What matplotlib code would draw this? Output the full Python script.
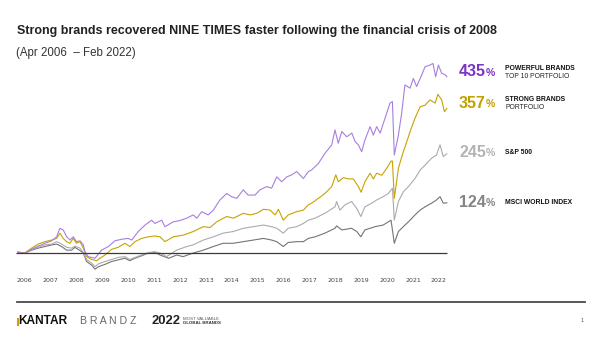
import numpy as np
import matplotlib.pyplot as plt

# index performance since Apr 2006, in %
powerful_dates = [2006.29, 2006.54, 2006.79, 2007.03, 2007.28, 2007.53, 2007.71, 2007.83, 2007.95,
                  2008.08, 2008.20, 2008.32, 2008.44, 2008.57, 2008.69, 2008.75, 2008.87, 2009.00,
                  2009.12, 2009.36, 2009.61, 2009.85, 2010.10, 2010.34, 2010.47, 2010.71, 2010.96,
                  2011.20, 2011.32, 2011.57, 2011.69, 2012.00, 2012.24, 2012.49, 2012.73, 2012.86,
                  2013.04, 2013.28, 2013.47, 2013.71, 2013.96, 2014.14, 2014.33, 2014.57, 2014.75,
                  2015.00, 2015.18, 2015.43, 2015.61, 2015.80, 2015.98, 2016.17, 2016.35, 2016.53,
                  2016.78, 2016.96, 2017.08, 2017.33, 2017.57, 2017.82, 2017.94, 2018.06, 2018.19,
                  2018.37, 2018.56, 2018.68, 2018.80, 2018.92, 2019.04, 2019.23, 2019.35, 2019.47,
                  2019.60, 2019.78, 2019.96, 2020.05, 2020.12, 2020.27, 2020.39, 2020.51, 2020.70,
                  2020.82, 2020.94, 2021.13, 2021.25, 2021.43, 2021.54, 2021.64, 2021.74, 2021.86,
                  2021.99, 2022.05]
powerful_pct = [2, -1, 9, 17, 24, 30, 40, 61, 57,
                40, 32, 40, 28, 30, 20, 3, -9, -11,
                -13, 7, 16, 30, 34, 36, 32, 53, 69,
                81, 73, 81, 65, 77, 80, 86, 94, 86,
                102, 94, 106, 131, 147, 139, 135, 156, 143,
                143, 156, 164, 160, 188, 176, 188, 193, 201,
                184, 201, 205, 221, 246, 267, 304, 271, 300,
                287, 296, 275, 267, 250, 279, 312, 291, 312,
                296, 333, 370, 374, 242, 291, 345, 415, 407,
                431, 411, 440, 460, 464, 468, 435, 464, 444,
                440, 435]

strong_dates = [2006.29, 2006.54, 2006.79, 2007.03, 2007.28, 2007.53, 2007.71, 2007.83, 2007.95,
                2008.08, 2008.20, 2008.32, 2008.44, 2008.57, 2008.69, 2008.81, 2009.00, 2009.18,
                2009.30, 2009.49, 2009.73, 2009.97, 2010.22, 2010.40, 2010.59, 2010.83, 2011.08,
                2011.32, 2011.51, 2011.69, 2012.00, 2012.36, 2012.73, 2013.10, 2013.35, 2013.59,
                2013.96, 2014.21, 2014.57, 2014.82, 2015.06, 2015.31, 2015.55, 2015.74, 2015.86,
                2016.04, 2016.22, 2016.53, 2016.78, 2016.96, 2017.08, 2017.33, 2017.57, 2017.82,
                2017.97, 2018.06, 2018.25, 2018.43, 2018.61, 2018.80, 2018.90, 2019.04, 2019.23,
                2019.35, 2019.47, 2019.66, 2019.84, 2020.00, 2020.05, 2020.12, 2020.27, 2020.45,
                2020.58, 2020.70, 2020.88, 2021.07, 2021.25, 2021.43, 2021.62, 2021.72, 2021.86,
                2021.96, 2022.05]
strong_pct = [2, 0, 12, 22, 28, 32, 36, 49, 36,
              28, 24, 36, 24, 28, 12, -9, -16, -19,
              -13, -5, 9, 14, 24, 16, 28, 36, 40,
              42, 40, 28, 40, 44, 53, 65, 63, 77,
              90, 86, 98, 94, 98, 108, 106, 94, 108,
              81, 94, 102, 106, 119, 123, 135, 147, 164,
              193, 176, 186, 183, 183, 164, 150, 176, 197,
              183, 197, 192, 209, 227, 227, 135, 209, 250,
              275, 300, 333, 361, 365, 378, 370, 392, 378,
              349, 357]

sp500_dates = [2006.29, 2006.54, 2006.79, 2007.03, 2007.28, 2007.53, 2007.71, 2007.89, 2008.08,
               2008.26, 2008.38, 2008.57, 2008.69, 2008.81, 2009.00, 2009.12, 2009.24, 2009.49,
               2009.73, 2009.97, 2010.22, 2010.40, 2010.59, 2010.83, 2011.08, 2011.32, 2011.51,
               2011.75, 2012.12, 2012.49, 2012.73, 2013.10, 2013.47, 2013.83, 2014.20, 2014.57,
               2014.94, 2015.31, 2015.61, 2015.80, 2016.04, 2016.22, 2016.53, 2016.78, 2016.96,
               2017.21, 2017.57, 2017.94, 2018.00, 2018.12, 2018.31, 2018.55, 2018.74, 2018.89,
               2019.04, 2019.29, 2019.47, 2019.71, 2019.90, 2020.05, 2020.12, 2020.27, 2020.45,
               2020.64, 2020.88, 2021.07, 2021.25, 2021.49, 2021.67, 2021.80, 2021.92, 2022.05]
sp500_pct = [2, 0, 9, 14, 20, 22, 28, 22, 14,
             12, 17, 12, 1, -16, -25, -34, -27, -21,
             -16, -11, -9, -16, -11, -5, 1, 3, 0,
             -9, 7, 16, 20, 32, 40, 49, 53, 61,
             65, 69, 65, 61, 49, 61, 65, 73, 81,
             86, 98, 114, 127, 106, 119, 127, 110, 90,
             114, 123, 131, 139, 147, 160, 81, 127, 151,
             164, 184, 205, 217, 234, 242, 267, 238, 245]

msci_dates = [2006.29, 2006.54, 2006.79, 2007.03, 2007.28, 2007.53, 2007.71, 2007.89, 2008.08,
              2008.26, 2008.38, 2008.57, 2008.69, 2008.81, 2009.00, 2009.12, 2009.24, 2009.49,
              2009.73, 2009.97, 2010.22, 2010.40, 2010.59, 2010.83, 2011.08, 2011.32, 2011.51,
              2011.83, 2012.12, 2012.36, 2012.73, 2013.10, 2013.47, 2013.83, 2014.20, 2014.57,
              2014.94, 2015.31, 2015.61, 2015.80, 2016.04, 2016.22, 2016.53, 2016.78, 2016.96,
              2017.21, 2017.57, 2017.94, 2018.00, 2018.19, 2018.55, 2018.74, 2018.89, 2019.04,
              2019.41, 2019.71, 2020.00, 2020.12, 2020.27, 2020.45, 2020.64, 2020.88, 2021.07,
              2021.25, 2021.49, 2021.67, 2021.80, 2021.92, 2022.05]
msci_pct = [2, 0, 7, 12, 16, 20, 22, 16, 7,
            7, 14, 6, 0, -21, -30, -40, -34, -28,
            -21, -17, -13, -19, -13, -7, 0, 2, -5,
            -13, -5, -9, 0, 7, 16, 24, 24, 28,
            32, 36, 32, 28, 16, 26, 28, 28, 36,
            40, 49, 61, 67, 57, 61, 53, 40, 57,
            65, 69, 81, 24, 53, 65, 77, 94, 106,
            114, 123, 131, 139, 123, 124]

year_labels = [str(y) for y in range(2006, 2023)]

end_values = ["435", "357", "245", "124"]
end_titles = ["POWERFUL BRANDS", "STRONG BRANDS", "S&P 500", "MSCI WORLD INDEX"]
end_subtitles = ["TOP 10 PORTFOLIO", "PORTFOLIO", "", ""]

LINE_COLORS = ["#a77fe0", "#c8a300", "#ababab", "#747474"]
LABEL_COLORS = ["#7d33c4", "#c3a000", "#b3b3b3", "#858585"]

plt.rcParams['font.family'] = ['Liberation Sans', 'DejaVu Sans']

fig = plt.figure(figsize=(6.02, 3.38), dpi=100)
W, H = 602, 338

def fx(px):
    return px / W

def fy(py):
    return 1 - py / H

ax = fig.add_axes([fx(15), fy(277.3), 434 / W, (277.3 - 58.6) / H])

series = [(msci_dates, msci_pct, LINE_COLORS[3]),
          (sp500_dates, sp500_pct, LINE_COLORS[2]),
          (strong_dates, strong_pct, LINE_COLORS[1]),
          (powerful_dates, powerful_pct, LINE_COLORS[0])]
for d, v, c in series:
    ax.plot(d, v, color=c, lw=0.8, solid_joinstyle='round')

ax.hlines(0, 2006.2, 2022.05, color='#3a3a3a', lw=0.9, zorder=5)

ax.set_xlim(2006.18, 2022.13)
ax.set_ylim(-60, 480)
ax.set_xticks(np.linspace(2006.54, 2021.76, len(year_labels)))
ax.set_xticklabels(year_labels, fontsize=4.5, color='#444444', family='DejaVu Sans')
ax.tick_params(axis='x', length=0, pad=0.5)
ax.set_yticks([])
for s in ax.spines.values():
    s.set_visible(False)

# titles
fig.text(fx(17), fy(31), "Strong brands recovered NINE TIMES faster following the financial crisis of 2008",
         fontsize=9.0, fontweight='bold', color='#222222', va='center', ha='left')
fig.text(fx(16), fy(53), "(Apr 2006  \u2013 Feb 2022)", fontsize=8.3, color='#333333',
         va='center', ha='left')

# end-of-line labels
label_y = [72, 103, 152, 202]
for i in range(4):
    t = fig.text(fx(459), fy(label_y[i]), end_values[i], fontsize=11.5, fontweight='bold',
                 color=LABEL_COLORS[i], va='center', ha='left')
    ax.annotate('%', xy=(1, 0.12), xycoords=t, fontsize=7.5, fontweight='bold',
                color=LABEL_COLORS[i], va='bottom', ha='left', annotation_clip=False)
    if end_subtitles[i]:
        fig.text(fx(505), fy(label_y[i] - 4), end_titles[i], fontsize=4.9, fontweight='bold',
                 color='#111111', va='center', ha='left')
        fig.text(fx(505), fy(label_y[i] + 4.5), end_subtitles[i], fontsize=4.9,
                 color='#222222', va='center', ha='left')
    else:
        fig.text(fx(505), fy(label_y[i]), end_titles[i], fontsize=4.9, fontweight='bold',
                 color='#111111', va='center', ha='left')

# footer
fig.add_artist(plt.Line2D([fx(17), fx(585)], [fy(302), fy(302)], color='#4a4a4a', lw=1.3))
fig.add_artist(plt.Rectangle((fx(17), fy(325.5)), 1.8 / W, 8 / H, color='#c8a300', lw=0))
fig.text(fx(18), fy(321.5), "KANTAR", fontsize=8.6, fontweight='bold', color='#111111',
         va='center', ha='left')
fig.text(fx(80), fy(321.5), "B R A N D Z", fontsize=7.6, color='#666666', va='center', ha='left')
fig.text(fx(152), fy(321.5), "2022", fontsize=9.4, fontweight='bold', color='#222222',
         va='center', ha='left')
fig.text(fx(183), fy(319), "MOST VALUABLE", fontsize=3.2, color='#555555', va='center', ha='left')
fig.text(fx(183), fy(323.5), "GLOBAL BRANDS", fontsize=3.2, fontweight='bold', color='#333333',
         va='center', ha='left')
fig.text(fx(582), fy(321), "1", fontsize=4, color='#555555', va='center', ha='center')

fig.savefig('out.png', dpi=100)
